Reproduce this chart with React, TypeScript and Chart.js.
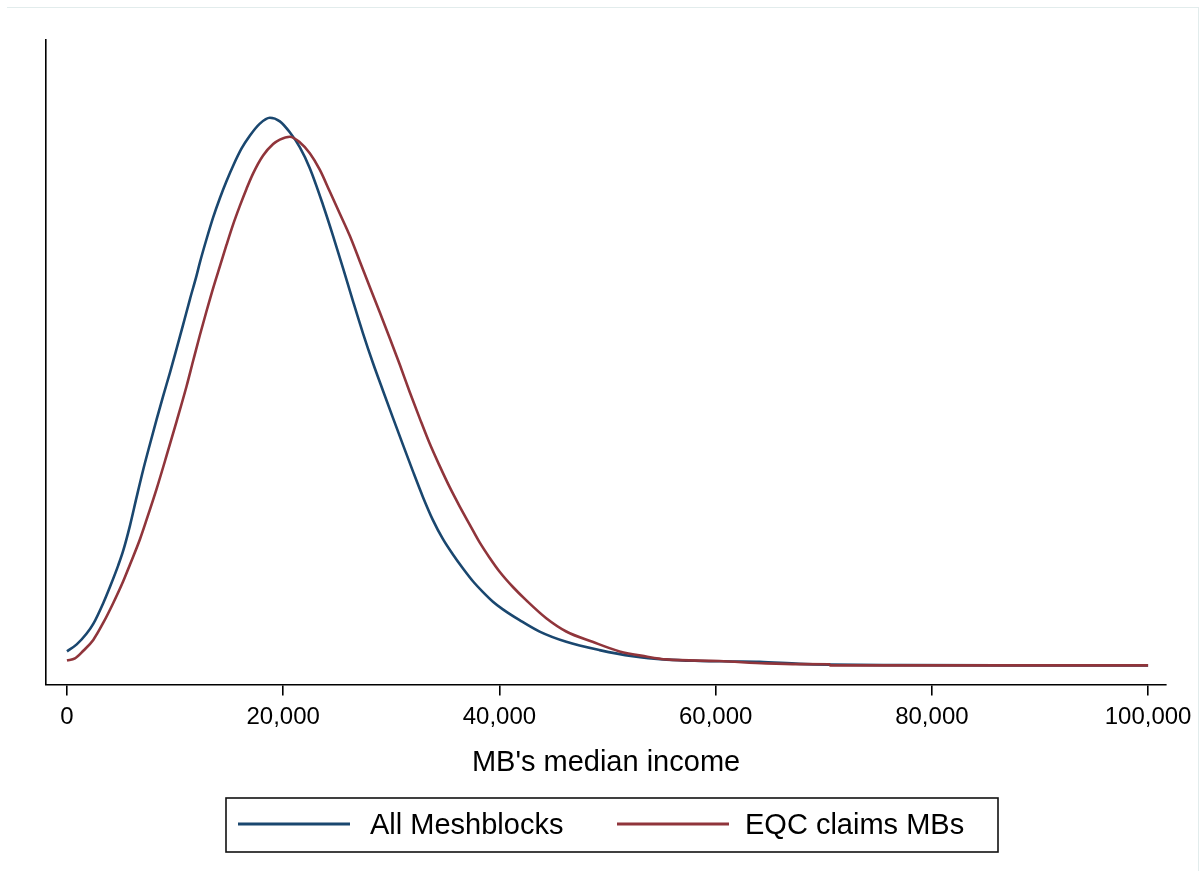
import React, { useEffect, useRef } from "react";
import { Chart, registerables } from "chart.js";

Chart.register(...registerables);

const seriesLabels = ["All Meshblocks", "EQC claims MBs"];
const seriesColors = ["#1a476f", "#90353b"];
const xTickValues = [0, 20000, 40000, 60000, 80000, 100000];
const xAxisTitle = "MB's median income";

const allIncome = [
  0, 900, 1820, 2430, 3360, 3970, 4740, 5200, 5820, 6440, 7050, 7670, 8290, 8900, 9520, 10140,
  10750, 11370, 11990, 12290, 12910, 13520, 14140, 14760, 15370, 16150, 16910, 17840, 18760,
  19690, 20610, 21530, 22460, 23690, 24610, 25540, 26460, 27380, 28310, 29230, 30160, 31080,
  32010, 32930, 33850, 34780, 35700, 36630, 37550, 38480, 39400, 40320, 41870, 43720, 46180,
  49260, 52310, 55450, 58500, 61550, 64050, 67740, 70520, 76990, 86230, 100000,
];
const allDensity = [
  0.11, 0.165, 0.25, 0.325, 0.49, 0.615, 0.785, 0.9, 1.095, 1.32, 1.535, 1.735, 1.93, 2.115,
  2.295, 2.485, 2.675, 2.872, 3.06, 3.16, 3.345, 3.515, 3.665, 3.8, 3.92, 4.055, 4.155,
  4.25, 4.296, 4.268, 4.182, 4.065, 3.9, 3.61, 3.37, 3.115, 2.856, 2.605, 2.37, 2.155,
  1.94, 1.73, 1.52, 1.32, 1.14, 0.99, 0.87, 0.76, 0.66, 0.575, 0.5, 0.44, 0.355,
  0.265, 0.185, 0.12, 0.072, 0.045, 0.035, 0.031, 0.028, 0.012, 0.006, 0.002, 0.0, 0.0,
];

const eqcIncome = [
  0, 740, 1510, 2430, 3360, 4280, 5200, 5820, 6750, 7370, 8290, 9210, 10140, 11060, 11670,
  12290, 12910, 13520, 14140, 14760, 15370, 15990, 16610, 17220, 18140, 19070, 19690, 20610,
  21530, 22460, 23380, 24310, 25230, 26160, 27080, 28000, 28930, 29850, 30780, 31700, 32620,
  33550, 34470, 35400, 36320, 37250, 38170, 39090, 40020, 41250, 42490, 44330, 46180, 48610,
  51110, 53580, 55450, 60350, 64670, 67740, 70520, 70600, 100000,
];
const eqcDensity = [
  0.039, 0.055, 0.115, 0.2, 0.335, 0.49, 0.66, 0.79, 0.99, 1.145, 1.385, 1.645, 1.915,
  2.19, 2.39, 2.59, 2.78, 2.96, 3.13, 3.3, 3.46, 3.605, 3.74, 3.86, 4.0, 4.09,
  4.125, 4.147, 4.104, 4.018, 3.889, 3.717, 3.545, 3.37, 3.171, 2.97, 2.77, 2.569, 2.36,
  2.145, 1.94, 1.74, 1.565, 1.398, 1.248, 1.105, 0.965, 0.845, 0.735, 0.615, 0.51, 0.37,
  0.266, 0.185, 0.11, 0.07, 0.047, 0.034, 0.016, 0.01, 0.009, 0.0, 0.0,
];

const FONT = "Arial, 'Liberation Sans', Helvetica, sans-serif";

const framedLegend = {
  id: "framedLegend",
  afterDraw(chart: any) {
    const ctx = chart.ctx;
    const box = { x: 226, y: 798, w: 772, h: 54 };
    ctx.save();
    ctx.strokeStyle = "#111";
    ctx.lineWidth = 1.6;
    ctx.strokeRect(box.x, box.y, box.w, box.h);
    const cy = box.y + box.h / 2;
    const items = [
      { lineX: 238, textX: 370 },
      { lineX: 617, textX: 745 },
    ];
    chart.data.datasets.forEach((ds: any, i: number) => {
      const it = items[i];
      ctx.strokeStyle = ds.borderColor;
      ctx.lineWidth = 3;
      ctx.beginPath();
      ctx.moveTo(it.lineX, cy - 1);
      ctx.lineTo(it.lineX + 112, cy - 1);
      ctx.stroke();
      ctx.fillStyle = "#000";
      ctx.font = `29px ${FONT}`;
      ctx.textBaseline = "middle";
      ctx.textAlign = "left";
      ctx.fillText(ds.label, it.textX, cy + 1);
    });
    ctx.restore();
  },
};

export default function App() {
  const canvasRef = useRef<HTMLCanvasElement | null>(null);

  useEffect(() => {
    if (!canvasRef.current) return;
    const toPoints = (xs: number[], ys: number[]) => xs.map((x, i) => ({ x, y: ys[i] }));
    const chart = new Chart(canvasRef.current, {
      type: "line",
      data: {
        datasets: [
          {
            label: seriesLabels[0],
            data: toPoints(allIncome, allDensity),
            borderColor: seriesColors[0],
            borderWidth: 2.6,
            pointRadius: 0,
            cubicInterpolationMode: "monotone",
            fill: false,
            order: 1,
          },
          {
            label: seriesLabels[1],
            data: toPoints(eqcIncome, eqcDensity),
            borderColor: seriesColors[1],
            borderWidth: 2.6,
            pointRadius: 0,
            cubicInterpolationMode: "monotone",
            fill: false,
            order: 0,
          },
        ],
      },
      options: {
        responsive: false,
        animation: false,
        devicePixelRatio: 1,
        layout: { padding: { left: 46, right: 33, top: 40, bottom: 91 } },
        plugins: {
          legend: { display: false },
          tooltip: { enabled: false },
        },
        font: { family: FONT },
        scales: {
          x: {
            type: "linear",
            min: -1941,
            max: 101664,
            afterBuildTicks: (scale: any) => {
              scale.ticks = xTickValues.map((v) => ({ value: v }));
            },
            grid: {
              display: true,
              drawOnChartArea: false,
              drawTicks: true,
              tickLength: 11,
              color: "#000",
              lineWidth: 1.6,
            },
            border: { display: true, color: "#000", width: 1.6 },
            ticks: {
              padding: 8,
              color: "#000",
              maxRotation: 0,
              font: { family: FONT, size: 24 },
              callback: (v: any) => Number(v).toLocaleString("en-US"),
            },
            title: {
              display: true,
              text: xAxisTitle,
              color: "#000",
              font: { family: FONT, size: 29 },
              padding: { top: 5, bottom: 0 },
            },
          },
          y: {
            type: "linear",
            min: -0.149,
            max: 4.906,
            grid: { display: false, drawTicks: false },
            border: { display: true, color: "#000", width: 1.6 },
            ticks: { display: false },
          },
        },
      },
      plugins: [framedLegend],
    } as any);
    return () => chart.destroy();
  }, []);

  return (
    <div style={{ position: "absolute", left: 0, top: 0, width: 1200, height: 871, overflow: "hidden", background: "#fff" }}>
      <div
        style={{
          position: "absolute",
          left: 7,
          top: 7,
          width: 1192,
          height: 1000,
          boxSizing: "border-box",
          borderTop: "1px solid #e2ecec",
          borderRight: "1px solid #e2ecec",
        }}
      />
      <canvas
        ref={canvasRef}
        width={1200}
        height={871}
        style={{ position: "absolute", left: 0, top: 0, width: 1200, height: 871, display: "block" }}
      />
    </div>
  );
}
